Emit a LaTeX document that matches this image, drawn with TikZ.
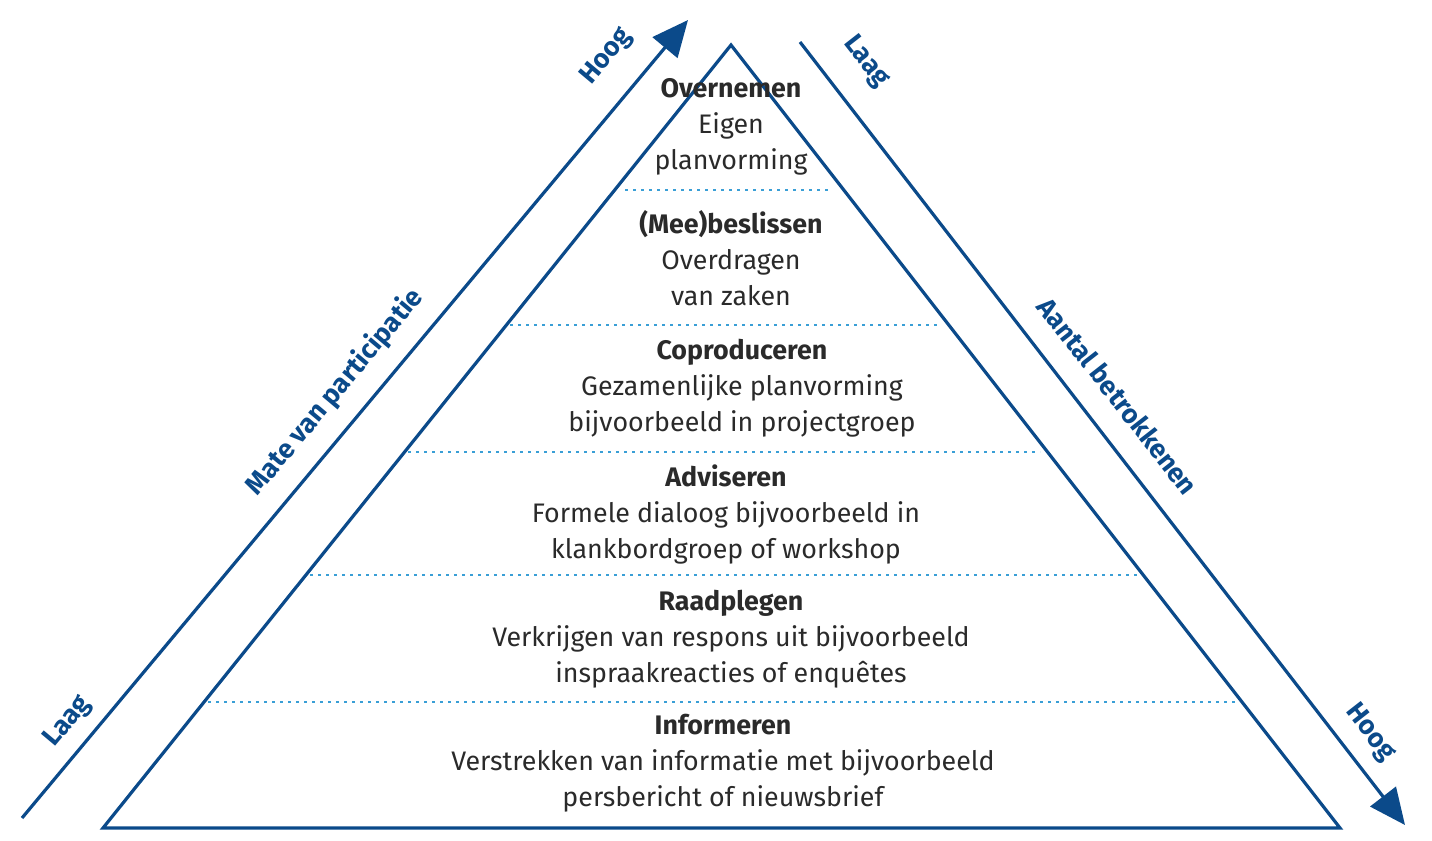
\documentclass[tikz,border=0pt]{standalone}
\usepackage{fontspec}
\setmainfont{Fira Sans}
\usetikzlibrary{arrows.meta}
\definecolor{navy}{HTML}{0B4A8A}
\definecolor{dotblue}{HTML}{3A9FD6}
\definecolor{ink}{HTML}{2A2A2A}
\tikzset{
  levelline/.style={dotblue, line width=1.4pt, dash pattern=on 1.4pt off 2.6pt},
  leveltext/.style={align=center, text=ink, font=\fontsize{13.4}{18}\selectfont},
  axis/.style={navy, line width=1.6pt, -{Triangle[length=18pt,width=16pt]}},
  axislabel/.style={text=navy, font=\fontsize{13.4}{15}\selectfont\bfseries}
}
\begin{document}
\begin{tikzpicture}[x=0.5pt,y=-0.5pt]
	\useasboundingbox (0,0) rectangle (1432,841);
	% pyramid
	\coordinate (top) at (731,45);
	\coordinate (bl) at (103,828);
	\coordinate (br) at (1340,828);
	\draw[navy, line width=1.6pt, line join=miter] (top)--(br)--(bl)--cycle;
	
	% axes
	\coordinate (ls) at (22,818);
	\coordinate (le) at (688,20);
	\coordinate (rs) at (800,42);
	\coordinate (re) at (1405,825);
	\draw[axis] (ls)--(le);
	\draw[axis] (rs)--(re);
	
	\node[axislabel, rotate=50] (lowl) at (68,722) {Laag};
	\node[axislabel, rotate=50] (partic) at (335,392) {Mate van participatie};
	\node[axislabel, rotate=50] (highl) at (607,57) {Hoog};
	\node[axislabel, rotate=-52] (lowr) at (866,62) {Laag};
	\node[axislabel, rotate=-52] (betr) at (1118,396) {Aantal betrokkenen};
	\node[axislabel, rotate=-52] (highr) at (1370,733) {Hoog};
	
	% level separators
	\draw[levelline] (625,190)--(832,190);
	\draw[levelline] (510,325)--(940,325);
	\draw[levelline] (408,452)--(1040,452);
	\draw[levelline] (310,575)--(1137,575);
	\draw[levelline] (208,702)--(1237,702);
	
	% levels
	\node[leveltext] (overnemen) at (731,127) {\textbf{Overnemen}\\Eigen\\planvorming};
	\node[leveltext] (beslissen) at (731,258) {\textbf{(Mee)beslissen}\\Overdragen\\van zaken};
	\node[leveltext] (coproduceren) at (742,388) {\textbf{Coproduceren}\\Gezamenlijke planvorming\\bijvoorbeeld in projectgroep};
	\node[leveltext] (adviseren) at (726,514) {\textbf{Adviseren}\\Formele dialoog bijvoorbeeld in\\klankbordgroep of workshop};
	\node[leveltext] (raadplegen) at (731,639) {\textbf{Raadplegen}\\Verkrijgen van respons uit bijvoorbeeld\\inspraakreacties of enquêtes};
	\node[leveltext] (informeren) at (723,763) {\textbf{Informeren}\\Verstrekken van informatie met bijvoorbeeld\\persbericht of nieuwsbrief};
\end{tikzpicture}
\end{document}
